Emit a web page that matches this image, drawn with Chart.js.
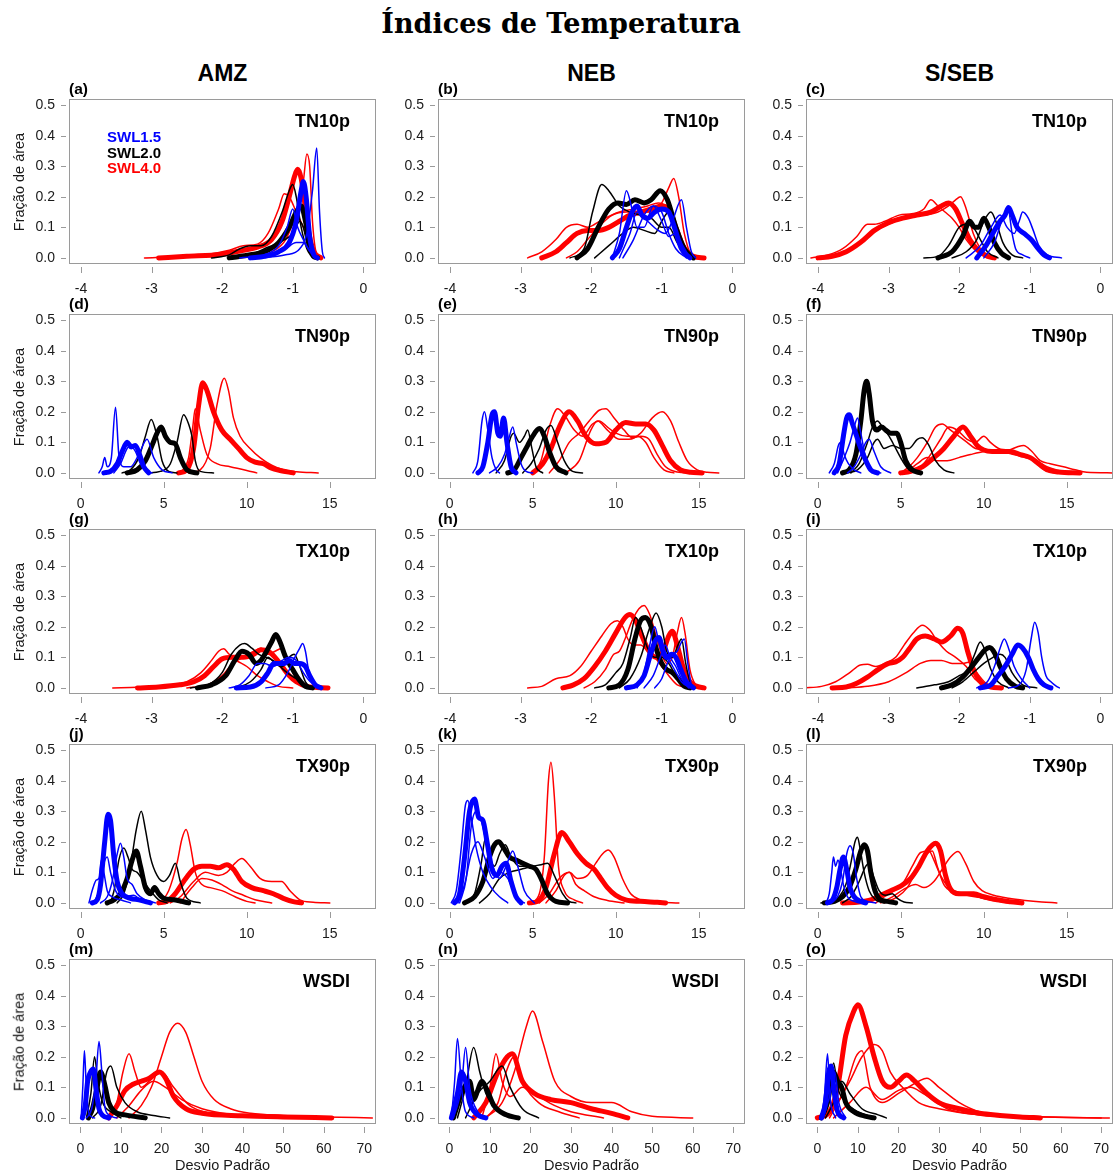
<!DOCTYPE html>
<html>
<head>
<meta charset="utf-8">
<script src="https://cdn.jsdelivr.net/npm/chart.js@4.4.0/dist/chart.umd.min.js"></script>
<style>
  body { margin: 0; background: #fff; width: 1115px; height: 1174px; position: relative; overflow: hidden; font-family: "Liberation Sans", Arial, sans-serif; }
  canvas { position: absolute; }
  .txt { position: absolute; white-space: nowrap; line-height: 1; }
</style>
</head>
<body>
<script>
// regions, indices and labels
const regions = ['AMZ', 'NEB', 'S/SEB'];
const indices = ['TN10p', 'TN90p', 'TX10p', 'TX90p', 'WSDI'];
const letters = ['a','b','c','d','e','f','g','h','i','j','k','l','m','n','o'];
const levels = ['SWL1.5', 'SWL2.0', 'SWL4.0'];
const levelColors = ['#0000ff', '#000000', '#ff0000'];

const xTicksNeg = [-4, -3, -2, -1, 0];
const xTicksPos = [0, 5, 10, 15];
const xTicksWsdi = [0, 10, 20, 30, 40, 50, 60, 70];
const yTicks = [0, 0.1, 0.2, 0.3, 0.4, 0.5];

// curves: flat x,y pairs; first curve of each colour is the thick one
// (a) AMZ TN10p
const aBlue = [
  [-1.6,0, -1.4,0.005, -1.2,0.02, -1.05,0.05, -0.95,0.12, -0.88,0.22, -0.85,0.25, -0.81,0.2, -0.76,0.07, -0.7,0.01, -0.65,0],
  [-1.5,0, -1.1,0.01, -0.9,0.03, -0.8,0.08, -0.72,0.22, -0.66,0.36, -0.62,0.15, -0.58,0.02, -0.55,0],
  [-1.75,0, -1.4,0.01, -1.2,0.04, -1.08,0.1, -1.0,0.16, -0.93,0.1, -0.85,0.06, -0.75,0.02, -0.65,0],
  [-1.6,0, -1.3,0.01, -1.1,0.03, -0.95,0.05, -0.85,0.05, -0.78,0.03, -0.7,0.005, -0.63,0]
];
const aBlack = [
  [-1.9,0, -1.6,0.01, -1.4,0.02, -1.2,0.05, -1.05,0.1, -0.95,0.15, -0.88,0.17, -0.82,0.12, -0.76,0.04, -0.7,0.005, -0.65,0],
  [-2.15,0, -1.9,0.01, -1.75,0.03, -1.6,0.04, -1.45,0.04, -1.3,0.07, -1.15,0.15, -1.05,0.22, -1.0,0.24, -0.95,0.2, -0.88,0.1, -0.8,0.03, -0.72,0],
  [-1.85,0, -1.6,0.01, -1.4,0.03, -1.2,0.05, -1.0,0.08, -0.9,0.12, -0.85,0.1, -0.78,0.03, -0.7,0]
];
const aRed = [
  [-2.9,0, -2.5,0.005, -2.0,0.012, -1.7,0.025, -1.5,0.035, -1.3,0.06, -1.15,0.12, -1.05,0.2, -0.97,0.27, -0.93,0.29, -0.88,0.26, -0.83,0.18, -0.77,0.08, -0.7,0.02, -0.6,0],
  [-1.6,0, -1.3,0.02, -1.1,0.06, -0.95,0.15, -0.85,0.25, -0.8,0.34, -0.76,0.3, -0.72,0.12, -0.67,0.02, -0.6,0],
  [-3.1,0, -2.6,0.005, -2.2,0.012, -1.9,0.025, -1.7,0.04, -1.5,0.045, -1.35,0.08, -1.2,0.16, -1.12,0.21, -1.05,0.2, -0.95,0.15, -0.85,0.1, -0.75,0.03, -0.6,0]
];
// (b) NEB TN10p
const bBlue = [
  [-1.7,0, -1.6,0.03, -1.5,0.1, -1.42,0.15, -1.35,0.17, -1.28,0.14, -1.2,0.13, -1.1,0.15, -1.0,0.16, -0.9,0.15, -0.82,0.1, -0.72,0.03, -0.6,0],
  [-1.7,0, -1.6,0.08, -1.5,0.22, -1.42,0.16, -1.35,0.1, -1.25,0.1, -1.12,0.17, -1.0,0.15, -0.9,0.08, -0.8,0.03, -0.65,0],
  [-1.6,0, -1.45,0.08, -1.35,0.15, -1.2,0.12, -1.05,0.09, -0.95,0.08, -0.85,0.12, -0.72,0.19, -0.65,0.1, -0.58,0.02, -0.52,0],
  [-1.55,0, -1.4,0.06, -1.25,0.14, -1.12,0.17, -1.0,0.12, -0.9,0.07, -0.8,0.08, -0.7,0.04, -0.6,0]
];
const bBlack = [
  [-2.2,0, -2.05,0.03, -1.9,0.1, -1.75,0.16, -1.62,0.18, -1.5,0.175, -1.38,0.19, -1.25,0.18, -1.15,0.19, -1.02,0.22, -0.92,0.19, -0.8,0.1, -0.68,0.03, -0.55,0],
  [-2.3,0, -2.1,0.03, -1.98,0.15, -1.85,0.24, -1.75,0.22, -1.6,0.17, -1.45,0.15, -1.3,0.14, -1.15,0.13, -1.0,0.1, -0.9,0.1, -0.78,0.05, -0.65,0.01, -0.55,0],
  [-1.95,0, -1.75,0.04, -1.55,0.08, -1.4,0.1, -1.25,0.09, -1.1,0.08, -1.0,0.12, -0.9,0.15, -0.8,0.1, -0.7,0.03, -0.6,0]
];
const bRed = [
  [-2.7,0, -2.5,0.02, -2.35,0.05, -2.2,0.08, -2.05,0.09, -1.9,0.09, -1.75,0.1, -1.6,0.12, -1.45,0.14, -1.3,0.15, -1.15,0.16, -1.0,0.17, -0.9,0.16, -0.8,0.1, -0.7,0.04, -0.55,0.005, -0.4,0],
  [-2.9,0, -2.7,0.02, -2.5,0.06, -2.35,0.1, -2.2,0.11, -2.05,0.1, -1.95,0.11, -1.8,0.13, -1.6,0.15, -1.4,0.16, -1.2,0.17, -1.05,0.18, -0.95,0.17, -0.85,0.12, -0.75,0.05, -0.62,0.01, -0.5,0],
  [-2.35,0, -2.2,0.02, -2.05,0.06, -1.9,0.1, -1.7,0.14, -1.5,0.15, -1.3,0.15, -1.15,0.15, -1.0,0.18, -0.9,0.23, -0.83,0.26, -0.76,0.2, -0.68,0.08, -0.58,0.01, -0.48,0]
];
// (c) S/SEB TN10p
const cBlue = [
  [-1.75,0, -1.62,0.04, -1.5,0.09, -1.42,0.12, -1.35,0.14, -1.3,0.165, -1.25,0.14, -1.18,0.1, -1.08,0.08, -0.98,0.06, -0.88,0.03, -0.8,0.01, -0.72,0],
  [-1.9,0, -1.7,0.04, -1.55,0.1, -1.42,0.14, -1.32,0.1, -1.22,0.08, -1.15,0.12, -1.1,0.15, -1.02,0.13, -0.95,0.09, -0.87,0.04, -0.75,0.01, -0.55,0],
  [-1.65,0, -1.5,0.05, -1.38,0.13, -1.3,0.15, -1.25,0.08, -1.2,0.03, -1.1,0.01, -1.0,0]
];
const cBlack = [
  [-2.3,0, -2.1,0.02, -1.95,0.07, -1.85,0.12, -1.78,0.1, -1.72,0.1, -1.65,0.13, -1.58,0.1, -1.5,0.05, -1.4,0.015, -1.3,0],
  [-2.5,0, -2.3,0.005, -2.15,0.04, -2.0,0.1, -1.9,0.11, -1.8,0.1, -1.7,0.06, -1.6,0.02, -1.45,0],
  [-2.1,0, -1.9,0.02, -1.75,0.06, -1.65,0.12, -1.55,0.15, -1.48,0.12, -1.38,0.05, -1.25,0.01, -1.1,0]
];
const cRed = [
  [-4.0,0, -3.8,0.005, -3.6,0.02, -3.4,0.05, -3.2,0.09, -3.0,0.115, -2.8,0.13, -2.6,0.14, -2.4,0.15, -2.25,0.17, -2.15,0.18, -2.05,0.16, -1.95,0.11, -1.85,0.06, -1.75,0.03, -1.6,0.005, -1.5,0],
  [-4.1,0, -3.85,0.01, -3.65,0.03, -3.45,0.07, -3.3,0.11, -3.2,0.11, -3.05,0.12, -2.85,0.14, -2.65,0.145, -2.5,0.16, -2.4,0.19, -2.3,0.17, -2.2,0.15, -2.1,0.13, -2.0,0.1, -1.9,0.06, -1.75,0.02, -1.6,0],
  [-3.9,0, -3.7,0.01, -3.5,0.03, -3.3,0.07, -3.1,0.1, -2.9,0.12, -2.7,0.135, -2.5,0.14, -2.3,0.15, -2.15,0.17, -2.05,0.19, -1.98,0.2, -1.9,0.16, -1.8,0.08, -1.7,0.03, -1.6,0.005, -1.5,0]
];
// (d) AMZ TN90p
const dBlue = [
  [1.4,0, 1.8,0.005, 2.2,0.03, 2.5,0.07, 2.8,0.1, 3.05,0.085, 3.3,0.09, 3.55,0.06, 3.8,0.02, 4.1,0],
  [1.1,0, 1.3,0.02, 1.45,0.05, 1.6,0.02, 1.85,0.05, 2.1,0.215, 2.3,0.06, 2.6,0.02, 3.0,0.02, 3.5,0.06, 4.0,0.11, 4.4,0.05, 4.9,0.01, 5.5,0],
  [2.0,0, 2.4,0.03, 2.8,0.08, 3.0,0.09, 3.3,0.07, 3.6,0.03, 4.0,0.005, 4.3,0]
];
const dBlack = [
  [2.8,0, 3.4,0.01, 3.9,0.04, 4.3,0.09, 4.6,0.13, 4.85,0.15, 5.1,0.12, 5.4,0.1, 5.7,0.095, 6.0,0.05, 6.4,0.01, 7.0,0],
  [2.5,0, 3.0,0.01, 3.5,0.05, 3.9,0.12, 4.25,0.175, 4.6,0.12, 4.9,0.04, 5.3,0.005, 5.8,0],
  [4.0,0, 4.8,0.005, 5.4,0.03, 5.8,0.1, 6.2,0.19, 6.5,0.16, 6.7,0.12, 6.9,0.04, 7.2,0.005, 8.0,0]
];
const dRed = [
  [5.9,0, 6.4,0.01, 6.8,0.08, 7.1,0.22, 7.35,0.295, 7.6,0.27, 8.0,0.2, 8.5,0.14, 9.0,0.11, 9.5,0.08, 10.0,0.05, 10.5,0.035, 11.0,0.03, 11.5,0.015, 12.0,0.008, 12.8,0],
  [6.0,0, 6.5,0.05, 6.75,0.15, 6.9,0.21, 7.2,0.14, 7.6,0.06, 8.2,0.03, 9.0,0.02, 10.0,0.008, 10.6,0],
  [6.5,0, 7.2,0.01, 7.8,0.08, 8.2,0.22, 8.65,0.31, 8.9,0.27, 9.2,0.18, 9.6,0.12, 10.2,0.08, 10.8,0.05, 11.5,0.025, 12.2,0.01, 13.0,0.004, 14.3,0]
];
// (e) NEB TN90p
const eBlue = [
  [1.7,0, 2.0,0.02, 2.3,0.1, 2.55,0.19, 2.7,0.2, 2.9,0.13, 3.05,0.12, 3.25,0.18, 3.45,0.1, 3.7,0.02, 4.0,0],
  [1.4,0, 1.7,0.04, 1.95,0.17, 2.1,0.2, 2.3,0.14, 2.55,0.05, 2.8,0.01, 3.0,0],
  [2.4,0, 2.9,0.02, 3.3,0.06, 3.6,0.12, 3.8,0.15, 4.0,0.1, 4.3,0.03, 4.6,0.005, 5.0,0]
];
const eBlack = [
  [3.5,0, 3.9,0.01, 4.3,0.05, 4.7,0.09, 5.0,0.12, 5.4,0.145, 5.7,0.12, 6.0,0.07, 6.4,0.02, 7.0,0],
  [2.8,0, 3.3,0.04, 3.7,0.12, 3.85,0.13, 4.2,0.1, 4.5,0.12, 4.7,0.14, 4.95,0.08, 5.2,0.02, 5.6,0],
  [4.4,0, 4.9,0.03, 5.4,0.08, 5.8,0.14, 6.1,0.155, 6.5,0.1, 6.9,0.04, 7.4,0.005, 8.0,0]
];
const eRed = [
  [5.0,0, 5.6,0.03, 6.1,0.08, 6.6,0.15, 7.2,0.2, 7.7,0.17, 8.2,0.12, 8.8,0.095, 9.4,0.1, 10.0,0.14, 10.6,0.165, 11.2,0.16, 11.8,0.16, 12.3,0.14, 12.8,0.09, 13.3,0.04, 13.9,0.01, 14.5,0.002, 15.2,0],
  [5.0,0, 5.5,0.04, 6.0,0.15, 6.5,0.21, 6.9,0.19, 7.5,0.14, 8.0,0.12, 8.6,0.16, 9.0,0.17, 9.5,0.15, 10.0,0.13, 10.7,0.12, 11.3,0.12, 11.8,0.1, 12.3,0.05, 12.9,0.01, 13.5,0],
  [6.0,0, 6.6,0.04, 7.2,0.1, 7.8,0.13, 8.4,0.17, 9.0,0.205, 9.4,0.21, 9.9,0.18, 10.5,0.14, 11.0,0.115, 11.5,0.12, 12.0,0.11, 12.5,0.06, 13.0,0.02, 13.7,0.003, 14.5,0],
  [7.0,0, 7.8,0.04, 8.5,0.14, 8.9,0.17, 9.5,0.14, 10.2,0.11, 10.8,0.11, 11.5,0.13, 12.2,0.18, 12.8,0.2, 13.3,0.17, 13.8,0.1, 14.3,0.04, 14.9,0.01, 15.5,0.002, 16.2,0]
];
// (f) S/SEB TN90p
const fBlue = [
  [1.0,0, 1.3,0.03, 1.55,0.12, 1.75,0.18, 1.9,0.19, 2.1,0.16, 2.35,0.12, 2.6,0.08, 2.9,0.04, 3.2,0.01, 3.6,0],
  [0.7,0, 1.0,0.03, 1.25,0.09, 1.4,0.1, 1.6,0.06, 1.85,0.03, 2.2,0.01, 2.6,0],
  [1.2,0, 1.6,0.05, 1.95,0.1, 2.2,0.15, 2.4,0.18, 2.6,0.13, 2.85,0.06, 3.2,0.01, 3.8,0],
  [1.8,0, 2.2,0.02, 2.6,0.06, 2.9,0.1, 3.1,0.11, 3.4,0.07, 3.8,0.02, 4.4,0]
];
const fBlack = [
  [1.5,0, 1.9,0.01, 2.3,0.06, 2.6,0.17, 2.8,0.27, 2.95,0.3, 3.1,0.26, 3.3,0.17, 3.55,0.14, 3.85,0.15, 4.1,0.14, 4.4,0.13, 4.75,0.13, 5.0,0.1, 5.3,0.04, 5.7,0.01, 6.2,0],
  [2.0,0, 2.5,0.03, 3.0,0.1, 3.3,0.15, 3.6,0.17, 3.9,0.15, 4.3,0.12, 4.7,0.08, 5.1,0.04, 5.5,0.01, 6.0,0],
  [1.8,0, 2.4,0.01, 3.0,0.05, 3.4,0.1, 3.6,0.11, 4.0,0.08, 4.5,0.09, 5.0,0.08, 5.5,0.08, 6.0,0.11, 6.3,0.115, 6.7,0.09, 7.1,0.04, 7.6,0.01, 8.2,0]
];
const fRed = [
  [5.0,0, 5.6,0.005, 6.3,0.02, 7.0,0.05, 7.6,0.08, 8.2,0.12, 8.75,0.15, 9.2,0.12, 9.6,0.09, 10.0,0.075, 10.5,0.07, 11.0,0.07, 11.6,0.07, 12.2,0.06, 12.8,0.05, 13.3,0.03, 13.8,0.01, 14.5,0.003, 15.8,0],
  [5.0,0, 5.5,0.02, 6.0,0.05, 6.6,0.1, 7.1,0.15, 7.5,0.16, 8.0,0.14, 8.5,0.12, 9.0,0.1, 9.5,0.08, 10.2,0.075, 11.0,0.07, 11.8,0.06, 12.5,0.05, 13.2,0.04, 13.8,0.02, 14.5,0.008, 15.2,0],
  [5.5,0, 6.2,0.02, 6.8,0.06, 7.4,0.11, 7.9,0.15, 8.4,0.14, 9.0,0.11, 9.5,0.1, 10.0,0.12, 10.4,0.1, 10.9,0.08, 11.5,0.075, 12.0,0.085, 12.4,0.09, 12.9,0.07, 13.4,0.04, 14.0,0.03, 14.8,0.02, 15.5,0.01, 16.2,0.002, 17.8,0],
  [5.3,0, 6.0,0.03, 6.6,0.05, 7.2,0.04, 7.8,0.04, 8.5,0.05, 9.2,0.06, 10.0,0.07, 10.8,0.075, 11.6,0.07, 12.4,0.06, 13.0,0.04, 13.5,0.015, 14.0,0.003, 14.5,0]
];
// (g) AMZ TX10p
const gBlue = [
  [-1.8,0, -1.6,0.003, -1.45,0.02, -1.35,0.05, -1.27,0.08, -1.2,0.08, -1.12,0.08, -1.05,0.09, -0.98,0.08, -0.9,0.08, -0.82,0.07, -0.76,0.04, -0.68,0.01, -0.6,0],
  [-1.38,0, -1.2,0.01, -1.07,0.05, -0.97,0.1, -0.9,0.13, -0.86,0.145, -0.82,0.12, -0.77,0.05, -0.7,0.01, -0.64,0],
  [-1.9,0, -1.75,0.01, -1.62,0.04, -1.5,0.08, -1.4,0.08, -1.28,0.07, -1.15,0.09, -1.05,0.1, -0.95,0.09, -0.85,0.05, -0.75,0.02, -0.62,0]
];
const gBlack = [
  [-2.35,0, -2.15,0.01, -1.95,0.04, -1.82,0.09, -1.72,0.12, -1.62,0.11, -1.52,0.08, -1.45,0.09, -1.37,0.12, -1.3,0.15, -1.24,0.175, -1.18,0.15, -1.1,0.1, -1.0,0.06, -0.92,0.03, -0.82,0.005, -0.72,0],
  [-2.45,0, -2.2,0.01, -2.0,0.05, -1.87,0.11, -1.75,0.14, -1.68,0.145, -1.58,0.13, -1.48,0.11, -1.38,0.1, -1.28,0.09, -1.18,0.07, -1.08,0.05, -0.95,0.03, -0.8,0.005, -0.7,0],
  [-1.8,0, -1.6,0.02, -1.45,0.06, -1.35,0.1, -1.25,0.08, -1.15,0.07, -1.05,0.1, -0.98,0.11, -0.9,0.07, -0.82,0.02, -0.72,0]
];
const gRed = [
  [-3.2,0, -2.9,0.003, -2.6,0.01, -2.4,0.02, -2.25,0.04, -2.12,0.07, -2.0,0.095, -1.85,0.1, -1.7,0.1, -1.55,0.11, -1.45,0.125, -1.35,0.12, -1.25,0.1, -1.15,0.07, -1.05,0.04, -0.95,0.02, -0.8,0.005, -0.5,0],
  [-3.55,0, -3.2,0.002, -2.8,0.008, -2.5,0.02, -2.3,0.05, -2.15,0.09, -2.05,0.12, -1.98,0.128, -1.9,0.11, -1.8,0.09, -1.65,0.07, -1.5,0.04, -1.35,0.02, -1.2,0.005, -1.0,0],
  [-2.5,0, -2.2,0.01, -2.0,0.04, -1.85,0.08, -1.7,0.1, -1.55,0.12, -1.45,0.13, -1.35,0.11, -1.25,0.12, -1.15,0.13, -1.05,0.08, -0.95,0.03, -0.8,0.01, -0.55,0]
];
// (h) NEB TX10p
const hBlue = [
  [-1.5,0, -1.35,0.01, -1.25,0.04, -1.17,0.1, -1.1,0.15, -1.04,0.165, -0.98,0.12, -0.92,0.1, -0.86,0.11, -0.8,0.1, -0.73,0.06, -0.65,0.02, -0.55,0],
  [-1.35,0, -1.25,0.05, -1.17,0.14, -1.1,0.2, -1.04,0.15, -0.97,0.1, -0.9,0.09, -0.82,0.06, -0.72,0.02, -0.6,0],
  [-1.1,0, -1.0,0.03, -0.92,0.08, -0.85,0.11, -0.78,0.12, -0.72,0.15, -0.68,0.16, -0.63,0.08, -0.58,0.01, -0.55,0],
  [-1.25,0, -1.12,0.04, -1.02,0.1, -0.95,0.14, -0.88,0.1, -0.8,0.07, -0.72,0.03, -0.62,0]
];
const hBlack = [
  [-1.75,0, -1.6,0.01, -1.48,0.06, -1.38,0.16, -1.3,0.22, -1.23,0.23, -1.15,0.2, -1.08,0.13, -1.0,0.08, -0.93,0.06, -0.85,0.05, -0.77,0.03, -0.68,0.005, -0.6,0],
  [-1.95,0, -1.8,0.01, -1.65,0.05, -1.55,0.08, -1.45,0.16, -1.37,0.23, -1.3,0.2, -1.2,0.13, -1.1,0.1, -1.0,0.1, -0.9,0.08, -0.8,0.04, -0.7,0.01, -0.6,0],
  [-1.6,0, -1.45,0.03, -1.3,0.1, -1.18,0.19, -1.08,0.245, -1.0,0.2, -0.93,0.12, -0.85,0.1, -0.77,0.14, -0.72,0.16, -0.66,0.08, -0.6,0.02, -0.52,0]
];
const hRed = [
  [-2.4,0, -2.25,0.01, -2.1,0.03, -1.95,0.07, -1.8,0.12, -1.65,0.18, -1.52,0.23, -1.45,0.24, -1.37,0.22, -1.28,0.17, -1.18,0.12, -1.08,0.1, -0.98,0.12, -0.9,0.17, -0.85,0.185, -0.78,0.14, -0.7,0.07, -0.6,0.02, -0.5,0.005, -0.4,0],
  [-2.9,0, -2.7,0.005, -2.5,0.03, -2.3,0.04, -2.15,0.07, -2.0,0.12, -1.85,0.17, -1.72,0.21, -1.63,0.22, -1.55,0.2, -1.48,0.16, -1.4,0.14, -1.3,0.14, -1.2,0.12, -1.1,0.1, -1.0,0.07, -0.9,0.04, -0.78,0.01, -0.6,0],
  [-2.1,0, -1.95,0.02, -1.8,0.06, -1.68,0.11, -1.6,0.12, -1.52,0.16, -1.42,0.22, -1.32,0.26, -1.25,0.27, -1.17,0.24, -1.08,0.17, -1.0,0.11, -0.93,0.08, -0.85,0.1, -0.78,0.18, -0.72,0.23, -0.67,0.18, -0.6,0.06, -0.52,0.01, -0.45,0]
];
// (i) S/SEB TX10p
const iBlue = [
  [-1.7,0, -1.55,0.01, -1.45,0.04, -1.35,0.07, -1.25,0.11, -1.17,0.14, -1.1,0.13, -1.02,0.1, -0.95,0.06, -0.88,0.03, -0.8,0.01, -0.7,0],
  [-1.75,0, -1.6,0.02, -1.5,0.07, -1.42,0.13, -1.36,0.16, -1.3,0.13, -1.22,0.07, -1.12,0.03, -1.0,0],
  [-1.3,0, -1.15,0.01, -1.05,0.06, -0.98,0.16, -0.93,0.215, -0.88,0.18, -0.83,0.1, -0.77,0.04, -0.7,0.02, -0.62,0.005, -0.58,0]
];
const iBlack = [
  [-2.25,0, -2.1,0.01, -1.95,0.035, -1.82,0.07, -1.72,0.1, -1.63,0.125, -1.57,0.132, -1.5,0.115, -1.42,0.07, -1.33,0.03, -1.2,0.005, -1.1,0],
  [-2.6,0, -2.35,0.01, -2.15,0.02, -2.0,0.04, -1.87,0.06, -1.78,0.11, -1.7,0.15, -1.63,0.12, -1.55,0.06, -1.45,0.02, -1.3,0],
  [-2.1,0, -1.95,0.02, -1.8,0.05, -1.65,0.08, -1.52,0.1, -1.42,0.11, -1.35,0.1, -1.25,0.05, -1.1,0.01, -0.9,0]
];
const iRed = [
  [-3.8,0, -3.6,0.003, -3.45,0.015, -3.3,0.035, -3.15,0.06, -3.0,0.08, -2.9,0.085, -2.8,0.1, -2.7,0.13, -2.6,0.16, -2.48,0.17, -2.35,0.16, -2.25,0.15, -2.12,0.17, -2.02,0.195, -1.95,0.18, -1.88,0.12, -1.78,0.05, -1.68,0.015, -1.55,0.003, -1.4,0],
  [-4.2,0, -3.95,0.005, -3.75,0.02, -3.55,0.05, -3.4,0.075, -3.3,0.077, -3.18,0.07, -3.05,0.08, -2.9,0.1, -2.78,0.14, -2.65,0.18, -2.52,0.205, -2.42,0.19, -2.3,0.15, -2.18,0.12, -2.05,0.1, -1.9,0.07, -1.78,0.03, -1.65,0.008, -1.5,0],
  [-3.6,0, -3.3,0.005, -3.0,0.02, -2.75,0.05, -2.55,0.08, -2.4,0.09, -2.25,0.09, -2.1,0.08, -1.95,0.08, -1.85,0.085, -1.75,0.05, -1.62,0.015, -1.45,0]
];
// (j) AMZ TX90p
const jBlue = [
  [0.7,0, 1.0,0.01, 1.2,0.06, 1.45,0.2, 1.65,0.29, 1.8,0.27, 2.0,0.15, 2.2,0.07, 2.5,0.03, 3.0,0.015, 3.5,0.01, 4.2,0],
  [0.5,0, 0.75,0.05, 0.95,0.075, 1.1,0.08, 1.25,0.14, 1.4,0.1, 1.6,0.04, 1.9,0.02, 2.4,0.01, 3.0,0],
  [1.2,0, 1.6,0.02, 1.9,0.07, 2.2,0.16, 2.4,0.195, 2.6,0.15, 2.8,0.08, 3.1,0.06, 3.4,0.03, 3.9,0.01, 4.5,0],
  [0.8,0, 1.1,0.04, 1.4,0.13, 1.6,0.15, 1.8,0.1, 2.1,0.04, 2.6,0.02, 3.2,0.025, 3.6,0.01, 4.1,0]
];
const jBlack = [
  [1.6,0, 2.0,0.01, 2.4,0.03, 2.8,0.08, 3.1,0.14, 3.35,0.17, 3.6,0.12, 3.9,0.05, 4.2,0.03, 4.45,0.05, 4.7,0.03, 5.0,0.015, 5.6,0.01, 6.5,0],
  [1.8,0, 2.05,0.05, 2.3,0.14, 2.6,0.18, 2.85,0.15, 3.1,0.11, 3.4,0.1, 3.8,0.07, 4.2,0.04, 4.7,0.01, 5.2,0],
  [2.2,0, 2.6,0.03, 3.0,0.12, 3.35,0.24, 3.65,0.3, 3.9,0.24, 4.2,0.15, 4.6,0.09, 5.0,0.07, 5.35,0.09, 5.7,0.13, 6.0,0.07, 6.4,0.015, 7.2,0]
];
const jRed = [
  [4.7,0, 5.2,0.005, 5.7,0.03, 6.2,0.07, 6.8,0.11, 7.3,0.12, 7.8,0.12, 8.3,0.115, 8.8,0.125, 9.2,0.11, 9.7,0.07, 10.3,0.05, 11.0,0.04, 11.6,0.03, 12.2,0.015, 12.8,0.004, 13.3,0],
  [4.8,0, 5.3,0.04, 5.8,0.13, 6.1,0.21, 6.35,0.24, 6.6,0.19, 6.9,0.1, 7.3,0.06, 7.8,0.05, 8.5,0.04, 9.3,0.02, 10.0,0.005, 10.5,0],
  [5.4,0, 6.0,0.02, 6.8,0.07, 7.5,0.1, 8.3,0.09, 8.8,0.1, 9.3,0.13, 9.7,0.145, 10.2,0.12, 10.8,0.08, 11.5,0.07, 12.1,0.07, 12.6,0.04, 13.2,0.01, 14.0,0.002, 15.0,0],
  [6.0,0, 6.7,0.05, 7.3,0.08, 7.9,0.075, 8.5,0.06, 9.1,0.04, 9.8,0.025, 10.5,0.01, 11.5,0]
];
// (k) NEB TX90p
const kBlue = [
  [0.3,0, 0.6,0.03, 0.9,0.15, 1.2,0.3, 1.5,0.34, 1.75,0.28, 2.0,0.27, 2.25,0.2, 2.55,0.11, 2.85,0.09, 3.15,0.12, 3.4,0.13, 3.7,0.07, 4.0,0.02, 4.3,0],
  [0.1,0, 0.4,0.04, 0.7,0.18, 0.95,0.32, 1.1,0.335, 1.3,0.28, 1.6,0.18, 2.0,0.1, 2.5,0.05, 3.0,0.02, 3.5,0],
  [0.6,0, 1.0,0.08, 1.3,0.25, 1.6,0.3, 1.9,0.27, 2.2,0.2, 2.6,0.12, 3.0,0.08, 3.4,0.12, 3.8,0.17, 4.1,0.12, 4.5,0.04, 5.1,0],
  [0.5,0, 0.9,0.06, 1.3,0.16, 1.7,0.2, 2.1,0.15, 2.6,0.08, 3.0,0.1, 3.5,0.08, 4.0,0.02, 4.5,0]
];
const kBlack = [
  [0.9,0, 1.5,0.02, 2.0,0.07, 2.4,0.15, 2.7,0.19, 2.95,0.2, 3.25,0.18, 3.6,0.15, 4.0,0.14, 4.4,0.13, 4.8,0.12, 5.2,0.11, 5.5,0.08, 5.9,0.03, 6.4,0.005, 7.1,0],
  [1.0,0, 1.5,0.03, 1.9,0.13, 2.15,0.21, 2.4,0.15, 2.7,0.12, 3.0,0.16, 3.35,0.19, 3.7,0.15, 4.2,0.12, 4.8,0.12, 5.3,0.1, 5.8,0.04, 6.4,0.005, 6.8,0],
  [1.8,0, 2.4,0.03, 3.0,0.08, 3.6,0.1, 4.3,0.11, 5.0,0.12, 5.5,0.125, 5.9,0.13, 6.3,0.09, 6.8,0.03, 7.2,0.005, 7.6,0]
];
const kRed = [
  [4.8,0, 5.3,0.005, 5.8,0.05, 6.3,0.16, 6.75,0.23, 7.2,0.2, 7.7,0.16, 8.2,0.13, 8.7,0.11, 9.1,0.08, 9.5,0.05, 10.0,0.025, 10.6,0.01, 11.5,0.005, 12.5,0.002, 13.0,0],
  [4.9,0, 5.4,0.03, 5.7,0.15, 5.95,0.4, 6.1,0.46, 6.3,0.35, 6.55,0.12, 6.9,0.04, 7.5,0.01, 8.0,0],
  [5.4,0, 6.0,0.03, 6.6,0.08, 7.2,0.1, 7.7,0.08, 8.3,0.09, 8.8,0.13, 9.2,0.16, 9.55,0.173, 9.9,0.15, 10.4,0.08, 10.9,0.03, 11.5,0.01, 12.5,0.003, 13.8,0],
  [5.8,0, 6.4,0.04, 6.9,0.09, 7.2,0.1, 7.6,0.06, 8.1,0.04, 8.7,0.02, 9.5,0.008, 10.5,0]
];
// (l) S/SEB TX90p
const lBlue = [
  [0.6,0, 0.9,0.01, 1.15,0.05, 1.35,0.11, 1.55,0.15, 1.75,0.11, 1.95,0.05, 2.2,0.02, 2.6,0.005, 2.9,0],
  [0.5,0, 0.7,0.03, 0.85,0.1, 0.95,0.15, 1.08,0.12, 1.22,0.14, 1.35,0.12, 1.55,0.06, 1.8,0.02, 2.2,0.005, 2.5,0],
  [0.8,0, 1.2,0.02, 1.5,0.07, 1.75,0.16, 1.95,0.187, 2.15,0.16, 2.35,0.08, 2.6,0.02, 3.0,0.005, 3.5,0]
];
const lBlack = [
  [0.4,0, 1.0,0.005, 1.5,0.02, 1.9,0.05, 2.3,0.11, 2.6,0.17, 2.8,0.19, 3.0,0.17, 3.2,0.1, 3.45,0.04, 3.8,0.01, 4.2,0.005, 4.7,0],
  [0.2,0, 0.8,0.005, 1.3,0.02, 1.7,0.06, 2.0,0.13, 2.25,0.2, 2.4,0.215, 2.55,0.18, 2.8,0.1, 3.1,0.04, 3.5,0.01, 4.0,0],
  [1.5,0, 2.0,0.02, 2.5,0.07, 2.9,0.12, 3.1,0.13, 3.35,0.09, 3.7,0.04, 4.1,0.025, 4.5,0.03, 4.8,0.015, 5.2,0.003, 5.7,0]
];
const lRed = [
  [1.5,0, 2.5,0.003, 3.2,0.01, 3.8,0.025, 4.4,0.04, 5.0,0.055, 5.6,0.08, 6.1,0.12, 6.6,0.17, 7.1,0.195, 7.4,0.17, 7.7,0.09, 8.0,0.045, 8.5,0.03, 9.0,0.03, 9.4,0.03, 10.0,0.02, 10.8,0.01, 11.6,0.004, 12.3,0],
  [3.5,0, 4.0,0.02, 4.6,0.04, 5.2,0.07, 5.7,0.12, 6.2,0.165, 6.7,0.17, 7.0,0.14, 7.4,0.09, 7.9,0.05, 8.5,0.035, 9.3,0.025, 10.2,0.012, 11.5,0],
  [3.8,0, 4.5,0.02, 5.2,0.045, 5.9,0.06, 6.4,0.05, 7.0,0.07, 7.5,0.11, 8.0,0.15, 8.45,0.168, 8.9,0.13, 9.4,0.07, 9.9,0.04, 10.6,0.025, 11.5,0.015, 12.5,0.008, 13.5,0.003, 14.4,0],
  [4.0,0, 4.8,0.02, 5.4,0.05, 5.9,0.1, 6.4,0.15, 6.9,0.17, 7.2,0.12, 7.6,0.06, 8.2,0.035, 9.0,0.025, 10.0,0.015, 11.0,0.005, 12.0,0]
];
// (m) AMZ WSDI
const mBlue = [
  [0.5,0, 1.2,0.04, 1.8,0.12, 2.5,0.15, 3.2,0.16, 3.9,0.09, 4.6,0.03, 5.5,0.008, 7,0],
  [0.2,0, 0.6,0.1, 1.0,0.22, 1.4,0.12, 1.9,0.03, 2.6,0.005, 3.5,0],
  [1.5,0, 2.8,0.03, 3.8,0.12, 4.6,0.25, 5.3,0.15, 6.0,0.04, 7.0,0.01, 9,0]
];
const mBlack = [
  [2,0, 3,0.03, 4,0.09, 5,0.15, 6,0.11, 7,0.05, 8.5,0.02, 11,0.01, 16,0],
  [1.5,0, 2.6,0.08, 3.5,0.2, 4.3,0.12, 5.5,0.05, 7.5,0.02, 10,0],
  [3,0, 5,0.04, 6.5,0.15, 7.5,0.17, 9,0.1, 11,0.05, 14,0.02, 18,0.008, 22,0]
];
const mRed = [
  [7,0, 9,0.04, 11,0.09, 13,0.11, 15,0.12, 17,0.13, 19.5,0.15, 21,0.13, 23,0.07, 26,0.03, 30,0.015, 40,0.007, 50,0.003, 62,0],
  [12,0, 15,0.04, 17.5,0.1, 20,0.2, 22,0.28, 24,0.31, 26,0.28, 28,0.2, 30,0.12, 33,0.06, 37,0.03, 42,0.015, 50,0.008, 60,0.003, 72,0],
  [7,0, 9,0.05, 10.5,0.15, 12,0.21, 13.5,0.15, 15,0.1, 17,0.12, 20,0.15, 23,0.1, 27,0.04, 32,0.015, 40,0.005, 55,0],
  [9,0, 12,0.04, 15,0.09, 18,0.12, 21,0.1, 25,0.06, 30,0.03, 38,0.01, 48,0]
];
// (n) NEB WSDI
const nBlue = [
  [0.5,0, 2,0.08, 3,0.15, 4,0.12, 5,0.05, 7,0.01, 9,0],
  [0.5,0, 1.3,0.12, 2,0.26, 3,0.1, 4,0.02, 6,0],
  [1,0, 2.2,0.05, 3,0.1, 4,0.23, 5,0.1, 7,0.02, 9,0]
];
const nBlack = [
  [1,0, 3,0.08, 5,0.12, 6,0.06, 7,0.09, 8,0.12, 9,0.1, 11,0.04, 14,0.01, 17,0],
  [2,0, 4,0.1, 6,0.23, 7.5,0.15, 9,0.08, 12,0.03, 16,0],
  [4,0, 7,0.08, 10,0.12, 13,0.17, 15,0.1, 18,0.03, 22,0]
];
const nRed = [
  [6,0, 9,0.05, 12,0.15, 15.5,0.21, 18,0.12, 21,0.08, 25,0.06, 30,0.05, 35,0.03, 40,0.015, 44,0],
  [9,0, 13,0.05, 16,0.15, 19,0.3, 20.5,0.35, 23,0.25, 26,0.12, 30,0.07, 35,0.05, 40,0.05, 45,0.02, 50,0.005, 60,0],
  [8,0, 10,0.1, 11.5,0.21, 13,0.12, 15,0.07, 18,0.1, 22,0.07, 26,0.04, 30,0.02, 38,0],
  [9,0, 12,0.05, 14,0.15, 16,0.2, 18,0.12, 22,0.05, 27,0.02, 32,0]
];
// (o) S/SEB WSDI
const oBlue = [
  [1,0, 2,0.05, 2.8,0.15, 3.4,0.17, 4.2,0.08, 5,0.02, 6.5,0],
  [1,0, 1.8,0.08, 2.5,0.21, 3.2,0.06, 4.5,0],
  [1.5,0, 3.2,0.08, 4.3,0.15, 5.3,0.05, 7,0]
];
const oBlack = [
  [1,0, 2.5,0.05, 4,0.15, 5,0.12, 6,0.1, 7,0.05, 9,0.02, 12,0.005, 14,0],
  [1,0, 3,0.1, 4,0.18, 5,0.1, 7,0.05, 10,0.02, 14,0],
  [2,0, 4,0.05, 6,0.12, 8,0.08, 11,0.03, 15,0.01, 17,0]
];
const oRed = [
  [0,0, 3,0.02, 5,0.1, 7,0.27, 9,0.35, 10,0.37, 12,0.3, 14,0.2, 16,0.12, 18,0.1, 20,0.12, 22,0.14, 24,0.12, 27,0.08, 30,0.05, 35,0.03, 40,0.015, 45,0.008, 50,0.003, 55,0],
  [2,0, 5,0.05, 8,0.12, 11,0.2, 14,0.24, 16,0.22, 18,0.15, 21,0.1, 25,0.05, 30,0.03, 40,0.01, 50,0.005, 70,0],
  [3,0, 7,0.1, 9.5,0.2, 11,0.22, 13,0.1, 16,0.05, 20,0.08, 25,0.12, 27,0.13, 30,0.1, 35,0.05, 40,0.02, 50,0.005, 72,0],
  [4,0, 8,0.05, 12,0.1, 16,0.06, 20,0.09, 23,0.1, 26,0.08, 32,0.03, 40,0.01, 50,0]
];

const panelCurves = [
  [aBlue, aBlack, aRed], [bBlue, bBlack, bRed], [cBlue, cBlack, cRed],
  [dBlue, dBlack, dRed], [eBlue, eBlack, eRed], [fBlue, fBlack, fRed],
  [gBlue, gBlack, gRed], [hBlue, hBlack, hRed], [iBlue, iBlack, iRed],
  [jBlue, jBlack, jRed], [kBlue, kBlack, kRed], [lBlue, lBlack, lRed],
  [mBlue, mBlack, mRed], [nBlue, nBlack, nRed], [oBlue, oBlack, oRed]
];

// layout
const colLeft = [69, 438, 806];
const rowTop = [99, 314, 529, 744, 959];
const boxW = 307, boxH = 165;
const axW = 55, axH = 34, padT = 24, padR = 24;

Chart.defaults.font.family = '"Liberation Sans", Arial, sans-serif';

function toPts(arr) {
  const p = [];
  for (let i = 0; i < arr.length; i += 2) p.push({x: arr[i], y: arr[i + 1]});
  return p;
}

function addText(txt, x, y, css) {
  const d = document.createElement('div');
  d.className = 'txt';
  d.textContent = txt;
  d.style.cssText += 'left:' + x + 'px;top:' + y + 'px;' + css;
  document.body.appendChild(d);
}

// box + outside tick marks, R style
const frame = {
  id: 'frame',
  afterDraw(chart) {
    const {ctx, chartArea: a, scales: {x, y}} = chart;
    ctx.save();
    ctx.strokeStyle = '#9a9a9a';
    ctx.lineWidth = 1;
    ctx.strokeRect(Math.round(a.left) + 0.5, Math.round(a.top) + 0.5, Math.round(a.width) - 1, Math.round(a.height) - 1);
    ctx.beginPath();
    x.ticks.forEach(t => {
      const px = Math.round(x.getPixelForValue(t.value)) + 0.5;
      ctx.moveTo(px, a.bottom + 3);
      ctx.lineTo(px, a.bottom + 9);
    });
    y.ticks.forEach(t => {
      const py = Math.round(y.getPixelForValue(t.value)) + 0.5;
      ctx.moveTo(a.left - 3, py);
      ctx.lineTo(a.left - 8, py);
    });
    ctx.stroke();
    ctx.restore();
  }
};

function xSetup(row) {
  if (row === 0 || row === 2) return {min: -4.17, max: 0.18, ticks: xTicksNeg};
  if (row === 4) return {min: -2.8, max: 72.9, ticks: xTicksWsdi};
  return {min: -0.7, max: 17.78, ticks: xTicksPos};
}

// title and headers
addText('Índices de Temperatura', 561, 23, 'transform:translate(-50%,-50%);font-family:"DejaVu Serif",serif;font-weight:bold;font-size:27px;color:#000;');
regions.forEach((r, c) => {
  addText(r, colLeft[c] + boxW / 2, 73, 'transform:translate(-50%,-50%);font-weight:bold;font-size:23px;color:#000;');
});

for (let row = 0; row < 5; row++) {
  for (let col = 0; col < 3; col++) {
    const idx = row * 3 + col;
    const bl = colLeft[col], bt = rowTop[row];
    const xs = xSetup(row);

    const cv = document.createElement('canvas');
    cv.width = axW + boxW + padR;
    cv.height = padT + boxH + axH;
    cv.style.left = (bl - axW) + 'px';
    cv.style.top = (bt - padT) + 'px';
    document.body.appendChild(cv);

    const datasets = [];
    panelCurves[idx].forEach((group, c) => {
      group.forEach((curve, k) => {
        datasets.push({
          data: toPts(curve),
          borderColor: levelColors[c],
          borderWidth: k === 0 ? 5 : 1.5,
          pointRadius: 0,
          fill: false,
          cubicInterpolationMode: 'monotone',
          borderCapStyle: 'round',
          borderJoinStyle: 'round'
        });
      });
    });

    new Chart(cv, {
      type: 'line',
      data: {datasets},
      options: {
        responsive: false,
        animation: false,
        events: [],
        layout: {padding: {left: 0, top: padT, right: padR, bottom: 0}},
        plugins: {legend: {display: false}, tooltip: {enabled: false}},
        scales: {
          x: {
            type: 'linear',
            min: xs.min, max: xs.max,
            grid: {display: false, drawTicks: false},
            border: {display: false},
            afterFit: s => { s.height = axH; },
            afterBuildTicks: s => { s.ticks = xs.ticks.map(v => ({value: v})); },
            ticks: {autoSkip: false, maxRotation: 0, padding: 17, color: '#1a1a1a', font: {size: 14}, callback: v => String(v)}
          },
          y: {
            min: -0.02, max: 0.52,
            grid: {display: false, drawTicks: false},
            border: {display: false},
            afterFit: s => { s.width = axW; },
            afterBuildTicks: s => { s.ticks = yTicks.map(v => ({value: v})); },
            ticks: {autoSkip: false, padding: 14, color: '#1a1a1a', font: {size: 14}, callback: v => v.toFixed(1)}
          }
        }
      },
      plugins: [frame]
    });

    // panel letter, index name
    addText('(' + letters[idx] + ')', bl, bt - 10, 'transform:translateY(-50%);font-weight:bold;font-size:15.5px;color:#000;');
    addText(indices[row], bl + boxW - 26, bt + 22, 'transform:translate(-100%,-50%);font-weight:bold;font-size:18px;color:#000;');

    if (col === 0) {
      addText('Fração de área', 19, bt + boxH / 2, 'transform:translate(-50%,-50%) rotate(-90deg);font-size:14.5px;color:#1a1a1a;');
    }
    if (row === 4) {
      addText('Desvio Padrão', bl + boxW / 2, bt + boxH + 41, 'transform:translate(-50%,-50%);font-size:14.5px;color:#1a1a1a;');
    }
  }
}

// legend in panel (a)
levels.forEach((lv, i) => {
  addText(lv, colLeft[0] + 38, rowTop[0] + 37 + i * 15.5, 'transform:translateY(-50%);font-weight:bold;font-size:15px;color:' + levelColors[i] + ';');
});
</script>
</body>
</html>
